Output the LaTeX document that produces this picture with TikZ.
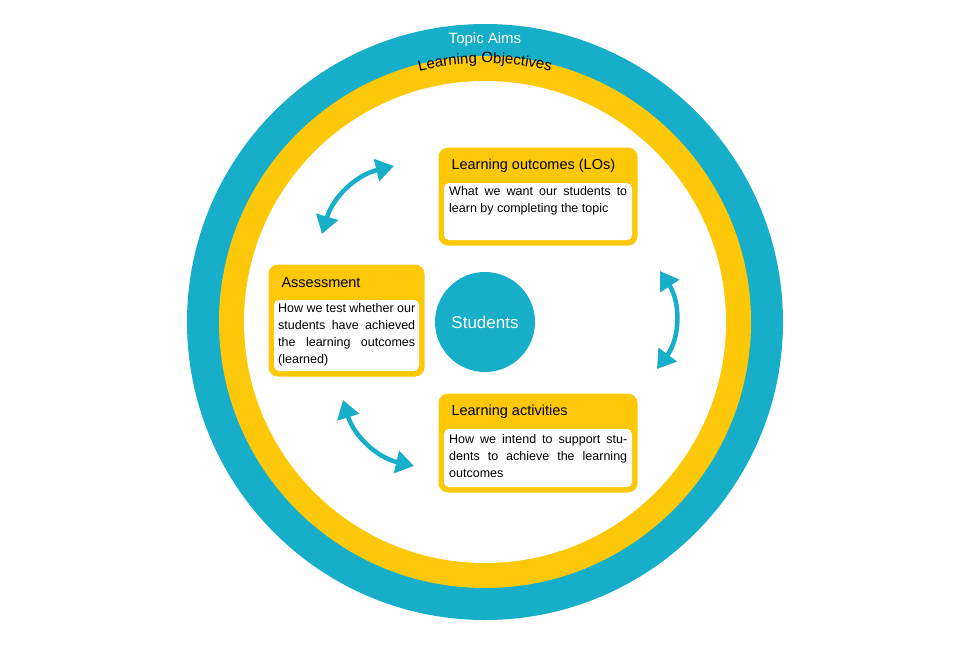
\documentclass[tikz,border=0pt]{standalone}
\usepackage{fontspec}
\setmainfont{Liberation Sans}
\usetikzlibrary{positioning, arrows.meta, decorations.text, calc}
\definecolor{ringTeal}{RGB}{22,174,200}
\definecolor{ringGold}{RGB}{253,200,8}
\tikzstyle{stepHead}=[fill=ringGold, draw=ringGold, line width=3pt, rounded corners=8pt]
\tikzstyle{stepBody}=[fill=white, rounded corners=5pt]
\tikzstyle{cycleArrow}=[{Triangle[width=22pt,length=18pt]}-{Triangle[width=22pt,length=18pt]}, line width=4.5pt, draw=ringTeal]
\newcommand{\stepbox}[6]{% name, x, y, width, height, title, body
  \draw[stepHead] (#2,#3) rectangle ++(#4,#5);
  \fill[white, rounded corners=5pt] (#2+4,#3+34) rectangle (#2+#4-4,#3+#5-4);
  \node[anchor=west, font=\fontsize{14.5}{16}\selectfont] (#1) at (#2+8,#3+17) {#6};
}
\begin{document}
\begin{tikzpicture}[x=1pt, y=-1pt]
  \useasboundingbox (0,0) rectangle (970,646);
  \coordinate (o) at (485,322);
  % rings
  \fill[ringTeal] (o) circle (298);
  \fill[ringGold] (o) circle (266);
  \fill[white] (o) circle (241);
  \node[text=white, font=\fontsize{15}{17}\selectfont] (aims) at (485,40) {Topic Aims};
  \path[postaction={decorate, decoration={text along path, text align=center,
      text={|\fontsize{15}{17}\selectfont|Learning Objectives}}}]
    ($(o)+(238:259)$) arc[start angle=238, end angle=302, radius=259];
  % centre
  \node[circle, fill=ringTeal, minimum size=100pt, text=white,
    font=\fontsize{17}{19}\selectfont] (students) at (o) {Students};
  % boxes
  \stepbox{lo}{440}{149}{196}{95}{Learning outcomes (LOs)}
  \node[text width=178pt, align=justify, anchor=north west, inner sep=0pt,
    font=\fontsize{12.5}{17}\selectfont] (loText) at (449,186)
    {What we want our students to learn by completing the topic};
  \stepbox{as}{270}{266}{153}{109}{Assessment}
  \node[text width=137pt, align=justify, anchor=north west, inner sep=0pt,
    font=\fontsize{12.5}{17}\selectfont] (asText) at (278,303)
    {How we test whether our students have achieved the learning outcomes (learned)};
  \stepbox{la}{440}{395}{196}{96}{Learning activities}
  \node[text width=178pt, align=justify, anchor=north west, inner sep=0pt,
    font=\fontsize{12.5}{17}\selectfont] (laText) at (449,434)
    {How we intend to support students to achieve the learning outcomes};
  % cycle arrows
  \coordinate (a1) at (394,166);
  \coordinate (a2) at (322,234);
  \coordinate (b1) at (660,271);
  \coordinate (b2) at (657,369);
  \coordinate (c1) at (343,400);
  \coordinate (c2) at (414,466);
  \draw[cycleArrow] (a1) to[bend right=30] (a2);
  \draw[cycleArrow] (b1) to[bend left=35] (b2);
  \draw[cycleArrow] (c1) to[bend right=30] (c2);
\end{tikzpicture}
\end{document}
